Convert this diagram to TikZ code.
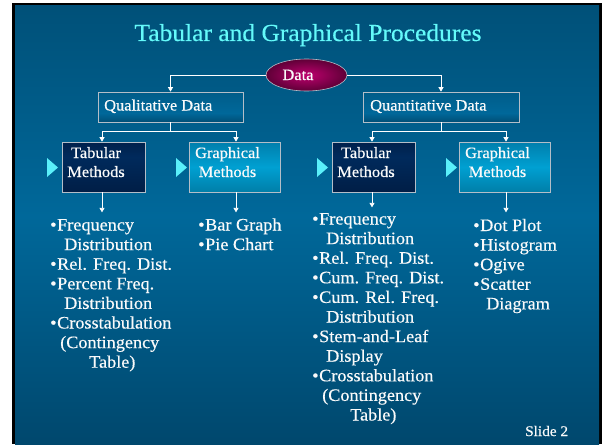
\documentclass[tikz,border=0pt]{standalone}
\usepackage{fontspec}
\setmainfont{Liberation Serif}[FakeStretch=1.04, FakeBold=0.4]
\usetikzlibrary{arrows.meta,shapes.geometric}

\definecolor{bgtop}{RGB}{0,56,86}
\definecolor{bgmid}{RGB}{0,104,154}
\definecolor{bgbot}{RGB}{0,40,66}
\definecolor{titlecol}{RGB}{100,250,250}
\definecolor{tricol}{RGB}{90,240,250}
\definecolor{boxline}{RGB}{180,190,200}
\definecolor{dataIn}{RGB}{190,0,110}
\definecolor{dataOut}{RGB}{95,0,55}
\definecolor{textcol}{RGB}{250,250,250}

\pgfdeclareverticalshading{slidebg}{100bp}{color(0bp)=(bgbot); color(51bp)=(bgmid); color(100bp)=(bgtop)}
\pgfdeclareverticalshading{qboxsh}{100bp}{color(0bp)=(black!60!bgbot); color(12bp)=(bgtop); color(40bp)=(bgmid); color(72bp)=(bgmid!90!black); color(100bp)=(bgtop)}
\pgfdeclareverticalshading{tboxsh}{100bp}{color(0bp)=(rgb,255:red,0;green,8;blue,25); color(25bp)=(rgb,255:red,0;green,30;blue,70); color(60bp)=(rgb,255:red,0;green,42;blue,92); color(100bp)=(rgb,255:red,0;green,18;blue,48)}
\pgfdeclareverticalshading{gboxsh}{100bp}{color(0bp)=(rgb,255:red,0;green,55;blue,80); color(20bp)=(rgb,255:red,0;green,120;blue,160); color(50bp)=(rgb,255:red,0;green,160;blue,210); color(80bp)=(rgb,255:red,0;green,120;blue,165); color(100bp)=(rgb,255:red,0;green,60;blue,90)}

\newcommand\bul{\makebox[7pt][l]{\textbullet}}

\tikzset{
  titletext/.style={text=titlecol, font=\fontsize{24.5}{28}\selectfont, inner sep=0},
  boxtext/.style={text=textcol, font=\fontsize{15.8}{19}\selectfont, inner sep=0},
  listtext/.style={text=textcol, font=\fontsize{17.5}{19.6}\selectfont, inner sep=0},
  databox/.style={draw=boxline, line width=0.7pt, shade, shading=qboxsh, inner sep=0, minimum height=30pt},
  tabbox/.style={draw=boxline, line width=0.7pt, shade, shading=tboxsh, inner sep=0, minimum width=83pt, minimum height=50pt},
  grabox/.style={draw=boxline, line width=0.7pt, shade, shading=gboxsh, inner sep=0, minimum width=91pt, minimum height=50pt},
  link/.style={draw=white, line width=0.8pt},
  conn/.style={link, -{Triangle[width=5pt,length=4.5pt]}},
  pointer/.style={fill=tricol}
}

\begin{document}
\begin{tikzpicture}[x=1pt,y=-1pt]
\useasboundingbox (0,0) rectangle (604,444);
\fill[white] (0,0) rectangle (604,444);
\fill[black] (12,3) rectangle (602,444);
\shade[shading=slidebg] (15,6) rectangle (599,444);

\node[titletext, anchor=base] (title) at (308,41) {Tabular and Graphical Procedures};

% Data ellipse
\node[ellipse, minimum width=81pt, minimum height=32pt, inner sep=0, shade, shading=radial, inner color=dataIn, outer color=dataOut, draw=boxline, line width=0.6pt] (data) at (306.5,75) {};
\node[boxtext, anchor=base] (datat) at (298,80) {Data};

% second level
\node[databox, minimum width=145pt] (qual) at (170.5,107) {};
\node[boxtext, anchor=base west] (qualt) at (104,110.5) {Qualitative Data};
\node[databox, minimum width=156pt] (quant) at (441,107) {};
\node[boxtext, anchor=base west] (quantt) at (370,110.5) {Quantitative Data};

% third level
\node[tabbox] (lt) at (103.5,167) {};
\node[boxtext, anchor=base] (ltt) at (96,158) {\begin{tabular}[t]{@{}c@{}}Tabular\\Methods\end{tabular}};
\node[grabox] (lg) at (234.5,167) {};
\node[boxtext, anchor=base] (lgt) at (227.5,158) {\begin{tabular}[t]{@{}c@{}}Graphical\\Methods\end{tabular}};
\node[tabbox] (rt) at (373.5,167) {};
\node[boxtext, anchor=base] (rtt) at (366,158) {\begin{tabular}[t]{@{}c@{}}Tabular\\Methods\end{tabular}};
\node[grabox] (rg) at (504.5,167) {};
\node[boxtext, anchor=base] (rgt) at (497.5,158) {\begin{tabular}[t]{@{}c@{}}Graphical\\Methods\end{tabular}};

% pointers
\fill[pointer] (47,158) -- (58,167.5) -- (47,177) -- cycle;
\fill[pointer] (176,158) -- (187,167.5) -- (176,177) -- cycle;
\fill[pointer] (317,158) -- (328,167.5) -- (317,177) -- cycle;
\fill[pointer] (446,158) -- (457,167.5) -- (446,177) -- cycle;

% lists
\node[listtext, anchor=base west] (ltl) at (50,230.5) {\begin{tabular}[t]{@{}l@{}}
\bul Frequency\\
\hspace*{14pt}Distribution\\
\bul Rel. Freq. Dist.\\
\bul Percent Freq.\\
\hspace*{14pt}Distribution\\
\bul Crosstabulation\\
\hspace*{10pt}(Contingency\\
\hspace*{39pt}Table)
\end{tabular}};

\node[listtext, anchor=base west] (lgl) at (198,230.5) {\begin{tabular}[t]{@{}l@{}}
\bul Bar Graph\\
\bul Pie Chart
\end{tabular}};

\node[listtext, anchor=base west] (rtl) at (312,224.5) {\begin{tabular}[t]{@{}l@{}}
\bul Frequency\\
\hspace*{14pt}Distribution\\
\bul Rel. Freq. Dist.\\
\bul Cum. Freq. Dist.\\
\bul Cum. Rel. Freq.\\
\hspace*{14pt}Distribution\\
\bul Stem-and-Leaf\\
\hspace*{14pt}Display\\
\bul Crosstabulation\\
\hspace*{10pt}(Contingency\\
\hspace*{38pt}Table)
\end{tabular}};

\node[listtext, anchor=base west] (rgl) at (473,231) {\begin{tabular}[t]{@{}l@{}}
\bul Dot Plot\\
\bul Histogram\\
\bul Ogive\\
\bul Scatter\\
\hspace*{13pt}Diagram
\end{tabular}};

\node[text=textcol, font=\fontsize{14.7}{16}\selectfont, inner sep=0, anchor=base west] (slide) at (525,436) {Slide 2};

% connectors
\draw[conn] (data.west) -| (qual.north);
\draw[conn] (data.east) -| (quant.north);

\draw[link] (qual.south) -- ++(0,9) coordinate (qsplit);
\draw[conn] (qsplit) -| ([xshift=-1.5pt]lt.north);
\draw[conn] (qsplit) -| ([xshift=1.5pt]lg.north);
\draw[link] (quant.south) -- ++(0,9) coordinate (nsplit);
\draw[conn] (nsplit) -| ([xshift=-1.5pt]rt.north);
\draw[conn] (nsplit) -| ([xshift=1.5pt]rg.north);

\draw[conn] ([xshift=-1.5pt]lt.south) -- ++(0,20) coordinate (ltend);
\draw[conn] ([xshift=1.5pt]lg.south) -- ++(0,20) coordinate (lgend);
\draw[conn] ([xshift=-1.5pt]rt.south) -- ++(0,15) coordinate (rtend);
\draw[conn] ([xshift=1.5pt]rg.south) -- ++(0,20) coordinate (rgend);
\end{tikzpicture}
\end{document}
